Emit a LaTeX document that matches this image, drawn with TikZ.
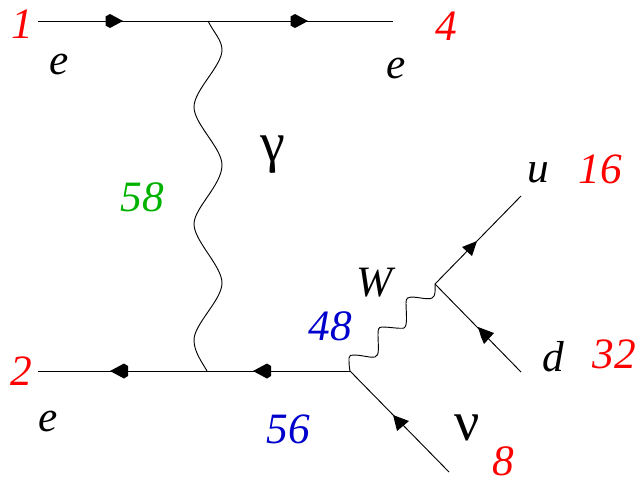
\documentclass[tikz,border=0pt]{standalone}
\usepackage{fontspec}
\setmainfont{Liberation Serif}
\newcommand{\fsz}{\fontsize{32.5}{34}\selectfont\itshape}
\newcommand{\gsz}{\fontsize{42}{44}\selectfont}
\definecolor{labred}{RGB}{255,0,0}
\definecolor{labgreen}{RGB}{0,178,0}
\definecolor{labblue}{RGB}{0,0,205}
\tikzset{
  px/.style={x=0.75pt,y=-0.75pt},
  fermion/.style={draw=black,line width=0.7pt},
  boson/.style={draw=black,line width=0.7pt,line join=round},
  lab/.style={inner sep=0pt,font=\fsz},
  greek/.style={inner sep=0pt,font=\gsz},
  arrowmark/.style={fill=black,draw=none},
}
\begin{document}
\begin{tikzpicture}[px]
\useasboundingbox (0,0) rectangle (641,480);
\coordinate (a1) at (38,21);
\coordinate (a4) at (393,21);
\coordinate (v1) at (208,21);
\coordinate (a2) at (38,371);
\coordinate (v2) at (207,371);
\coordinate (v3) at (350,371);
\coordinate (nu) at (449,472);
\coordinate (v4) at (435,284);
\coordinate (u) at (521,196);
\coordinate (d) at (521,372);
\draw[fermion] (a1) -- (a4);
\draw[fermion] (a2) -- (v3);
\draw[fermion] (v3) -- (nu);
\draw[fermion] (v4) -- (u);
\draw[fermion] (v4) -- (d);
\draw[boson] (v1) .. controls (214,33) and (222,40) .. (222,50)
  .. controls (222,66) and (194,90) .. (194,107)
  .. controls (194,124) and (222,148) .. (222,165)
  .. controls (222,185) and (194,208) .. (194,224)
  .. controls (194,241) and (222,266) .. (222,283)
  .. controls (222,300) and (194,324) .. (194,340)
  .. controls (194,352) and (202,362) .. (v2);
\draw[boson] (v3) .. controls (349,366) and (349,362) .. (349,358)
  .. controls (349,355) and (351,355) .. (354,355)
  .. controls (362,355) and (370,358) .. (375,357)
  .. controls (380,356) and (378,345) .. (378,335)
  .. controls (378,330) and (378,327) .. (382,327)
  .. controls (390,327) and (400,329) .. (404,328)
  .. controls (408,326) and (406,312) .. (406,303)
  .. controls (406,298) and (408,297) .. (411,297)
  .. controls (418,297) and (428,300) .. (432,298)
  .. controls (436,296) and (435,290) .. (v4);
\fill[arrowmark] (123,21) -- (110,14) -- (105.5,16.5) -- (105.5,25.5) -- (110,28) -- cycle;
\fill[arrowmark] (308,21) -- (295,14) -- (290.5,16.5) -- (290.5,25.5) -- (295,28) -- cycle;
\fill[arrowmark] (110,371) -- (124,363.5) -- (128,366) -- (128,376) -- (124,378.5) -- cycle;
\fill[arrowmark] (253,371) -- (267,363.5) -- (271,366) -- (271,376) -- (267,378.5) -- cycle;
\fill[arrowmark] (477,241) -- (462,247) -- (472,256) -- (474,250) -- cycle;
\fill[arrowmark] (478,327) -- (494,333) -- (484,344) -- (481,337) -- cycle;
\fill[arrowmark] (393,415) -- (409,421) -- (397,431) -- (395,423) -- cycle;
\node[lab,text=labred] (n1) at (22,24) {1};
\node[lab,text=labred] (n2) at (21,371) {2};
\node[lab,text=labred] (n4) at (446,26) {4};
\node[lab,text=labred] (n16) at (600,169) {16};
\node[lab,text=labred] (n32) at (614,354) {32};
\node[lab,text=labred] (n8) at (503,461) {8};
\node[lab,text=labgreen] (n58) at (142,197) {58};
\node[lab,text=labblue] (n48) at (330,326) {48};
\node[lab,text=labblue] (n56) at (288,429) {56};
\node[lab] (e1) at (59,64) {e};
\node[lab] (e4) at (396,68) {e};
\node[lab] (e2) at (48,421) {e};
\node[lab] (u1) at (538,173) {u};
\node[lab] (d1) at (553,357) {d};
\node[lab] (W) at (375,283) {W};
\node[greek] (g) at (273,155) {γ};
\node[greek] (v) at (467,428) {ν};
\end{tikzpicture}
\end{document}
